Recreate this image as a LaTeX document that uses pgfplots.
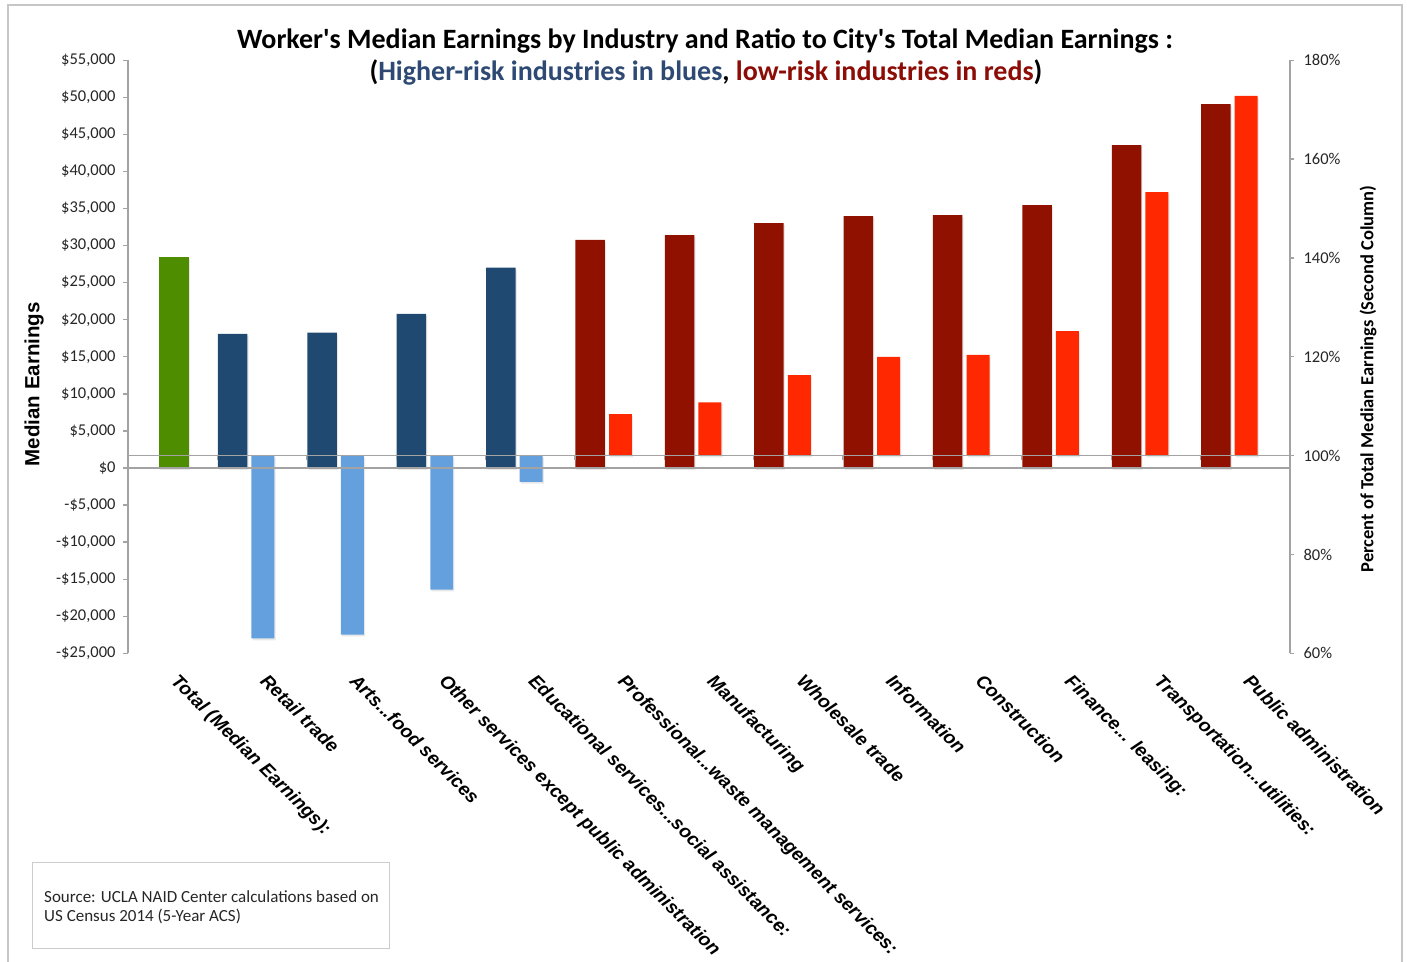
\documentclass[border=0pt]{standalone}
\usepackage{pgfplots}
\pgfplotsset{compat=1.18}
\usepackage{pgfplotstable}
\usepackage{fontspec}
\usetikzlibrary{shadows}
\setmainfont{Carlito}[Ligatures=TeXOff]
\newfontfamily\arialf{Liberation Sans}
\definecolor{cgreen}{HTML}{4E8C00}
\definecolor{dblue}{HTML}{1F4970}
\definecolor{lblue}{HTML}{64A0DE}
\definecolor{dred}{HTML}{911100}
\definecolor{lred}{HTML}{FF2800}
\definecolor{tblue}{HTML}{2E4A74}
\definecolor{tred}{HTML}{8C0C06}
\definecolor{cline}{HTML}{A3A3A3}

\pgfplotstableread{
x earn
0 28430
}\totaltab
\pgfplotstableread{
x earn ratio
1 18080 63.0
2 18270 63.8
3 20780 72.9
4 27030 94.7
}\bluetab
\pgfplotstableread{
x earn ratio
5 30760 108.4
6 31430 110.8
7 33050 116.3
8 33990 120.0
9 34130 120.4
10 35480 125.2
11 43570 153.3
12 49100 172.8
}\redtab

\tikzset{barshadow/.style={drop shadow={shadow xshift=1.2bp, shadow yshift=-1.8bp, opacity=0.18}}}

\begin{document}
\begin{tikzpicture}
\useasboundingbox (0,0) rectangle (1407bp,-962bp);
\draw[gray!45, line width=1.5bp] (8bp,-963bp) -- (8bp,-5bp) -- (1402bp,-5bp) -- (1402bp,-963bp);

\node[anchor=base, font=\bfseries\fontsize{28bp}{30bp}\selectfont] at (705bp,-48.5bp)
  {Worker's Median Earnings by Industry and Ratio to City's Total Median Earnings :};
\node[anchor=base, font=\bfseries\fontsize{28bp}{30bp}\selectfont] at (706bp,-80.5bp)
  {(\textcolor{tblue}{Higher-risk industries in blues}, \textcolor{tred}{low-risk industries in reds})};

\begin{axis}[
  at={(128bp,-653.3bp)}, anchor=south west,
  width=1162bp, height=593bp, scale only axis,
  xmin=0, xmax=13, ymin=-25000, ymax=55000,
  scaled y ticks=false,
  axis y line*=left, axis x line*=bottom,
  x axis line style={draw=none},
  y axis line style={cline, line width=1.3bp},
  xtick={0.5,1.5,2.5,3.5,4.5,5.5,6.5,7.5,8.5,9.5,10.5,11.5,12.5},
  xticklabels={{Total (Median Earnings):},{Retail trade},{Arts..{}.food services},{Other services except public administration},{Educational services..{}.social assistance:},{Professional..{}.waste management services:},{Manufacturing},{Wholesale trade},{Information},{Construction},{Finance..{}. leasing:},{Transportation..{}.utilities:},{Public administration}},
  xtick style={draw=none},
  xticklabel shift=13bp,
  xticklabel style={font=\arialf\bfseries\itshape\fontsize{18.7bp}{20bp}\selectfont, xshift=7bp, yshift=-6bp, rotate=-45, anchor=north west, inner sep=0pt},
  ytick={-25000,-20000,-15000,-10000,-5000,0,5000,10000,15000,20000,25000,30000,35000,40000,45000,50000,55000},
  yticklabels={-\$25{,}000,-\$20{,}000,-\$15{,}000,-\$10{,}000,-\$5{,}000,\$0,\$5{,}000,\$10{,}000,\$15{,}000,\$20{,}000,\$25{,}000,\$30{,}000,\$35{,}000,\$40{,}000,\$45{,}000,\$50{,}000,\$55{,}000},
  ytick align=outside,
  ytick style={cline, line width=1.3bp},
  major tick length=5bp,
  yticklabel style={font=\fontsize{16.5bp}{18bp}\selectfont, text=black!85, xshift=-4bp},
  ylabel={Median Earnings},
  every axis y label/.style={at={(rel axis cs:0,0.454)}, xshift=-94bp, rotate=90, anchor=center, font=\arialf\bfseries\fontsize{20.5bp}{22bp}\selectfont},
  clip=false,
]
\addplot[ybar, bar width=0.336, bar shift=0pt, fill=cgreen, draw=none, barshadow]
  table[x expr=\thisrow{x}+0.515, y=earn]{\totaltab};
\addplot[ybar, bar width=0.33, bar shift=0pt, fill=dblue, draw=none, barshadow]
  table[x expr=\thisrow{x}+0.171, y=earn]{\bluetab};
\addplot[ybar, bar width=0.33, bar shift=0pt, fill=dred, draw=none, barshadow]
  table[x expr=\thisrow{x}+0.171, y=earn]{\redtab};
\end{axis}

\begin{axis}[
  at={(128bp,-653.3bp)}, anchor=south west,
  width=1162bp, height=593bp, scale only axis,
  xmin=0, xmax=13, ymin=-40, ymax=80,
  axis y line*=right, axis x line*=middle,
  x axis line style={cline, line width=1.5bp},
  y axis line style={cline, line width=1.3bp},
  xtick={1,2,3,4,5,6,7,8,9,10,11,12},
  xticklabels={},
  xtick align=outside,
  xtick style={cline, line width=1.3bp},
  ytick={-40,-20,0,20,40,60,80},
  yticklabels={60\%,80\%,100\%,120\%,140\%,160\%,180\%},
  ytick align=outside,
  ytick style={cline, line width=1.3bp},
  major tick length=4bp,
  yticklabel style={font=\fontsize{16.5bp}{18bp}\selectfont, text=black!85, xshift=6bp},
  ylabel={Percent of Total Median Earnings (Second Column)},
  every axis y label/.style={at={(rel axis cs:1,0.4626)}, xshift=78bp, rotate=90, anchor=center, font=\bfseries\fontsize{18.5bp}{20bp}\selectfont},
  clip=false,
]
\addplot[ybar, bar width=0.257, bar shift=0pt, fill=lblue, draw=none, barshadow]
  table[x expr=\thisrow{x}+0.51, y expr=\thisrow{ratio}-100]{\bluetab};
\addplot[ybar, bar width=0.257, bar shift=0pt, fill=lred, draw=none, barshadow]
  table[x expr=\thisrow{x}+0.51, y expr=\thisrow{ratio}-100]{\redtab};
\draw[cline, line width=1.5bp] (rel axis cs:0,0.3125) -- (rel axis cs:1,0.3125);
\draw[cline, line width=1.5bp] (axis cs:0,0) -- (axis cs:13,0);
\end{axis}

\node[draw=gray!40, line width=1bp, minimum width=357bp, minimum height=86.5bp, anchor=north west, inner sep=0pt] at (32.3bp,-861.8bp) {};
\node[anchor=base west, align=left, inner sep=0pt, font=\fontsize{17bp}{19bp}\selectfont, text=black!85] at (44bp,-921bp)
  {Source: UCLA NAID Center calculations based on\\US Census 2014 (5-Year ACS)};
\end{tikzpicture}
\end{document}
